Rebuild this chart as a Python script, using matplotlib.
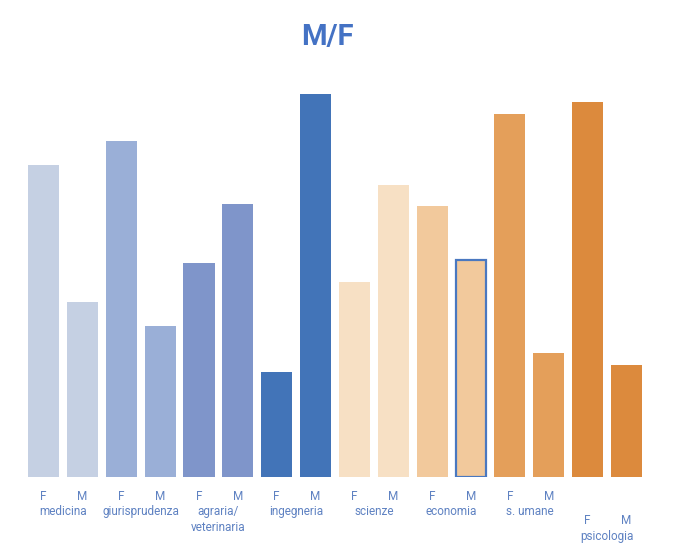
import matplotlib
matplotlib.use("Agg")
import matplotlib.pyplot as plt
from matplotlib.transforms import blended_transform_factory

categories = ["medicina", "giurisprudenza", "agraria/\nveterinaria", "ingegneria",
              "scienze", "economia", "s. umane", "psicologia"]
female = [64, 69, 44, 21.5, 40, 55.5, 74.5, 77]
male = [36, 31, 56, 78.5, 60, 44.5, 25.5, 23]
colors = ["#C5D0E3", "#9AAFD7", "#7F95CA", "#4274B8",
          "#F7E0C4", "#F2C99C", "#E49F5A", "#DC8A3D"]
sex_labels = ["F", "M"]

W, H = 675, 554
fig = plt.figure(figsize=(W / 100, H / 100), dpi=100)
ax = fig.add_axes([0, 77 / H, 1, (477 - 60) / H])

px_per_unit = 4.875
step = 38.87
ax.set_ylim(0, (477 - 60) / px_per_unit)
ax.set_xlim(-43.5 / step, (675 - 43.5) / step)
ax.axis("off")

label_color = "#5F82C2"
trans = blended_transform_factory(ax.transData, fig.transFigure)

for i, cat in enumerate(categories):
    xf, xm = 2 * i, 2 * i + 1
    ax.bar(xf, female[i], width=0.8, color=colors[i])
    if cat == "economia":
        ax.bar(xm, male[i], width=0.77, color=colors[i], edgecolor="#4A78C0", linewidth=1.6)
    else:
        ax.bar(xm, male[i], width=0.8, color=colors[i])
    if cat == "psicologia":
        y_sex, y_cat = 521, 537
    else:
        y_sex, y_cat = 496, 512
    for x, s in zip((xf, xm), sex_labels):
        ax.text(x, 1 - y_sex / H, s, transform=trans, ha="center", va="center",
                fontsize=8.5, color=label_color, family="Roboto")
    ax.text((xf + xm) / 2, 1 - (y_cat - 7) / H, cat, transform=trans, ha="center", va="top",
            fontsize=8.5, color=label_color, family="Roboto", linespacing=1.3)

fig.text(327 / W, 1 - 37 / H, "M/F", ha="center", va="center", fontsize=21,
         fontweight="bold", color="#4472C4", family="Roboto")

fig.savefig("out.png", dpi=100)
